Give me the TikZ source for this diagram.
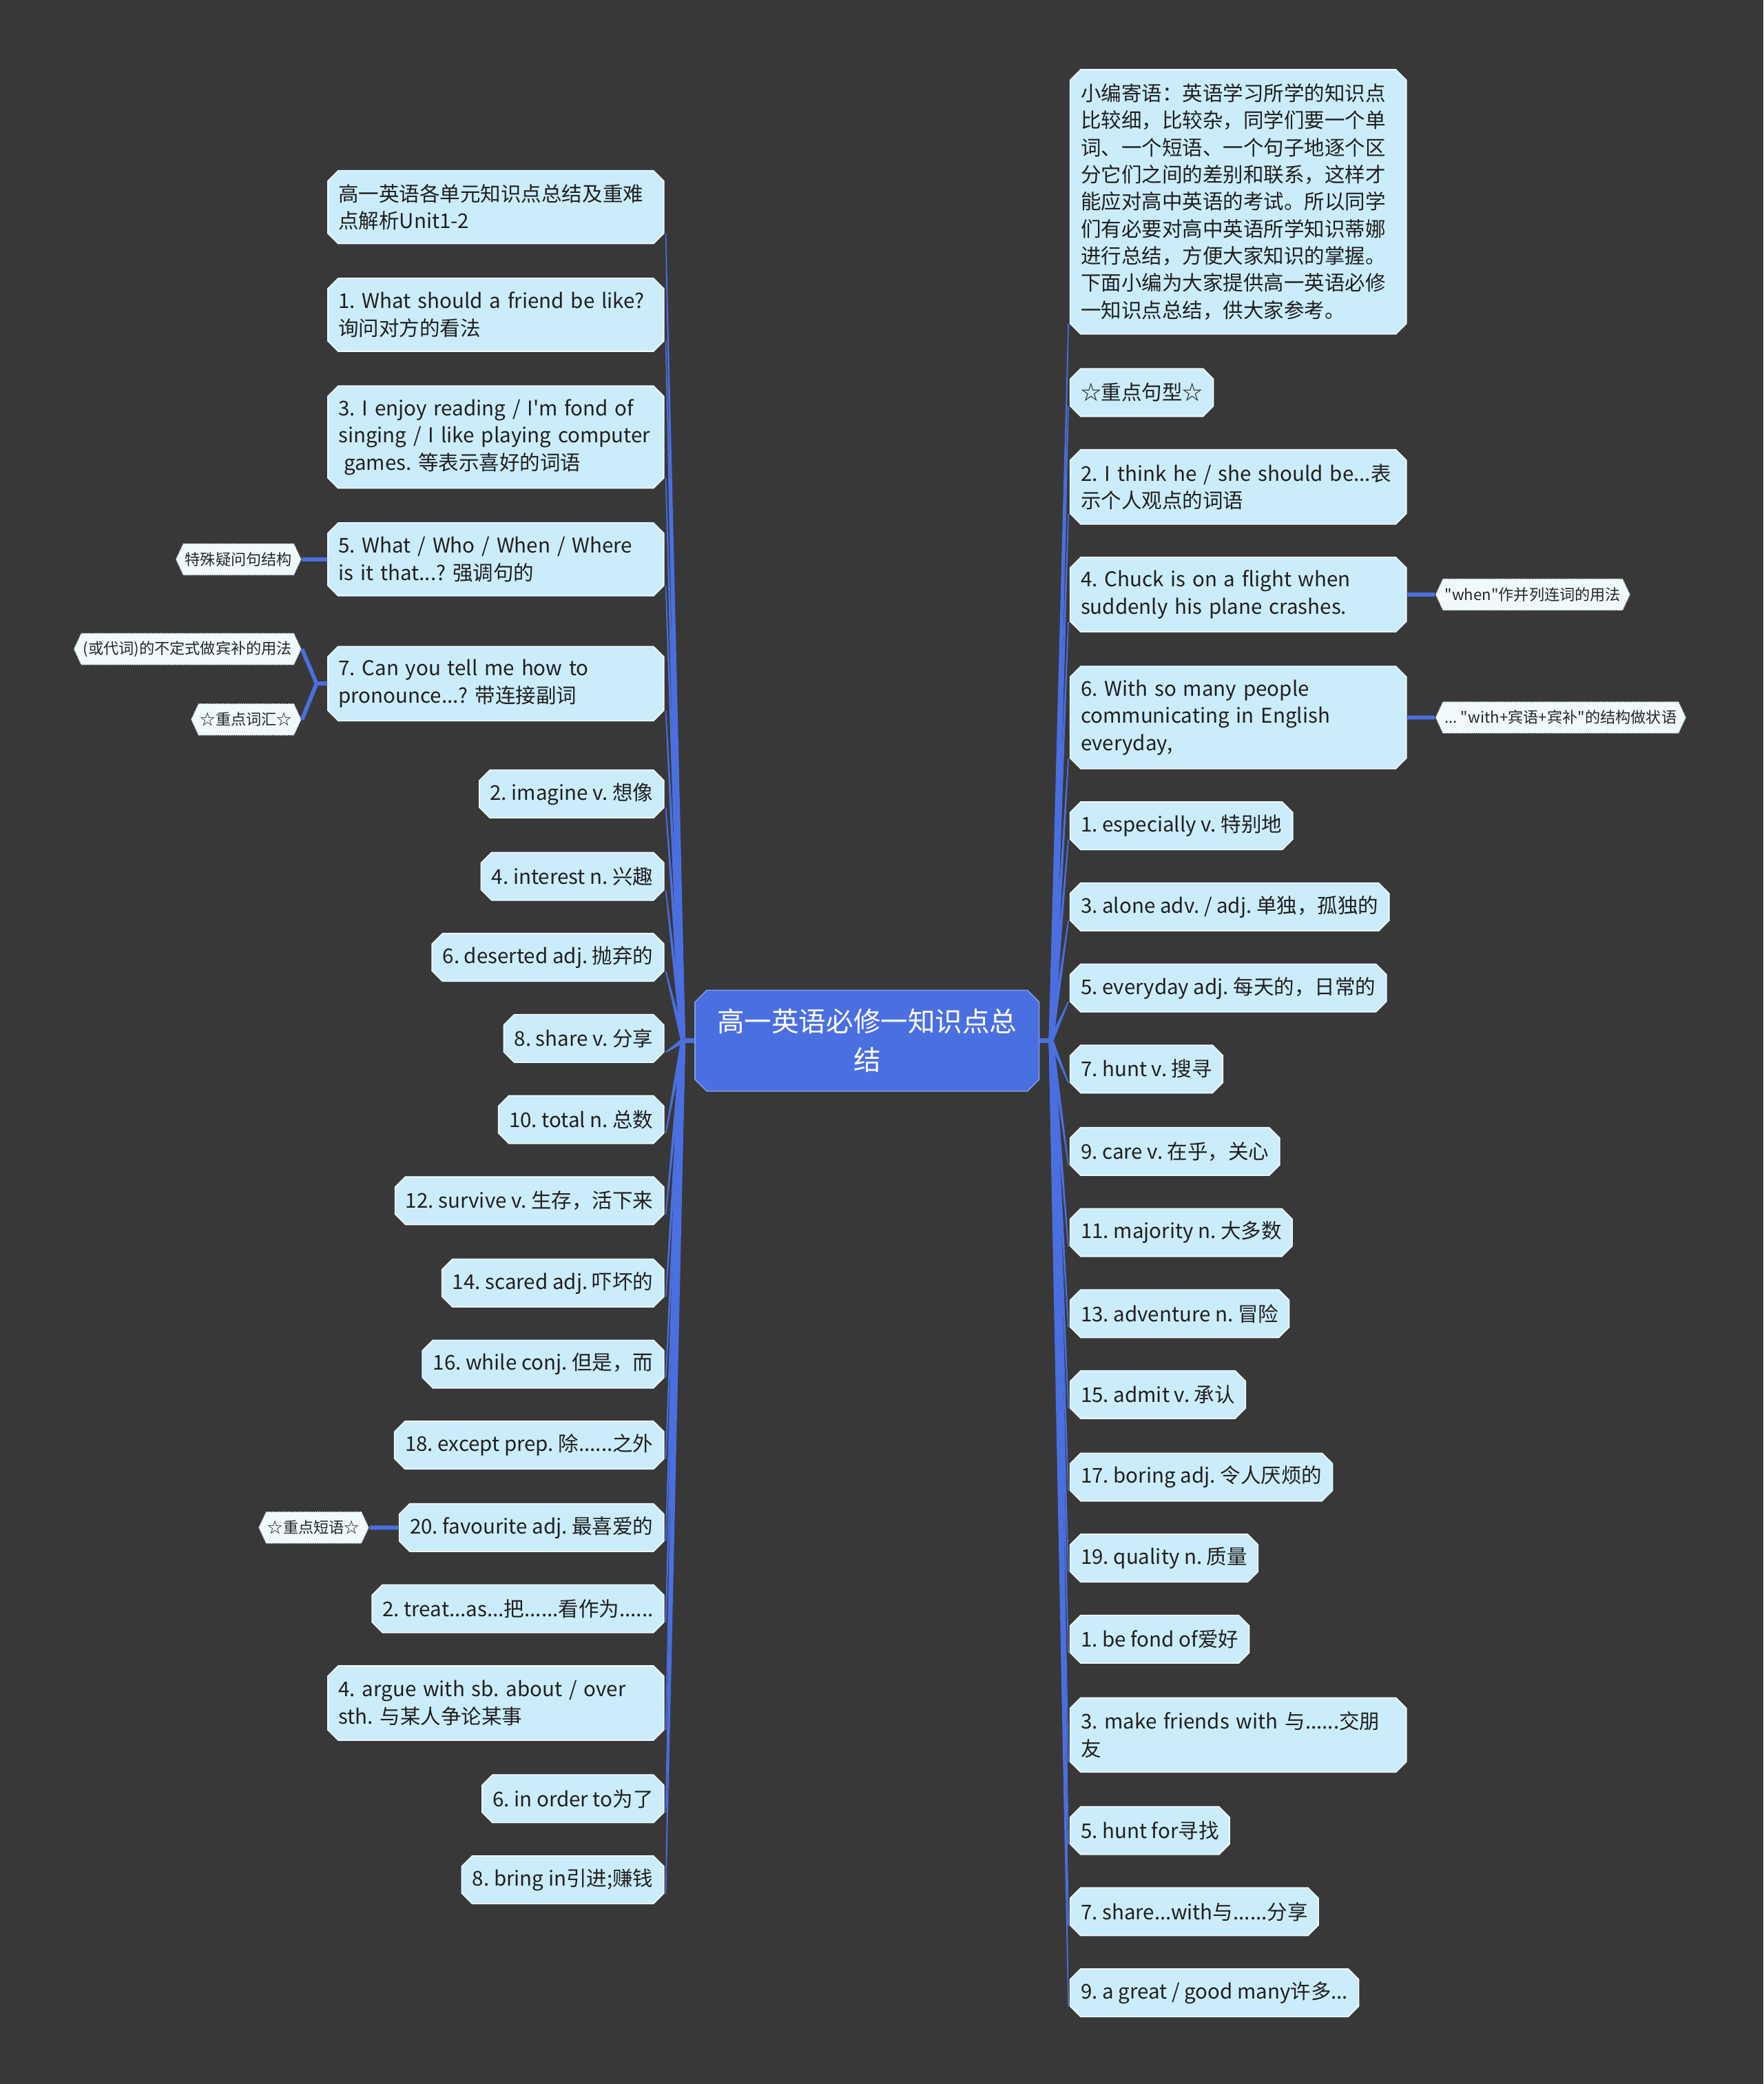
\documentclass[tikz,border=0pt]{standalone}
\usepackage{fontspec}
\newfontfamily\cjk{Noto Sans CJK SC}
\usetikzlibrary{positioning,calc,shapes.misc,shapes.symbols}
\frenchspacing

\definecolor{bgcol}{RGB}{57,56,57}
\definecolor{leafcol}{RGB}{203,237,251}
\definecolor{topiccol}{RGB}{74,111,224}
\definecolor{tagcol}{RGB}{240,250,253}

% tapered branch from a junction to an end point
\newcommand{\branch}[2]{\fill[topiccol] ($(#1)!1.8pt!90:(#2)$) -- ($(#2)!0.4pt!-90:(#1)$) -- ($(#2)!0.4pt!90:(#1)$) -- ($(#1)!1.8pt!-90:(#2)$) -- cycle;}

\begin{document}
\begin{tikzpicture}[x=1pt, y=-1pt,
  leaf/.style={chamfered rectangle, chamfered rectangle xsep=5pt, fill=leafcol, draw=white!75!leafcol, line width=0.8pt, text=black!88, font=\cjk\fontsize{15.3}{20.4}\selectfont, inner xsep=3pt, inner ysep=1pt, minimum height=36pt, align=left},
  wide/.style={leaf, text width=237pt},
  lft/.style={anchor=north east, xshift=-5pt, yshift=-5pt},
  rgt/.style={anchor=north west, xshift=5pt, yshift=-5pt},
  topic/.style={chamfered rectangle, chamfered rectangle xsep=6pt, fill=topiccol, draw=topiccol!70!white, line width=0.8pt, text=white, font=\cjk\fontsize{20.5}{29}\selectfont, minimum width=259pt, minimum height=76pt, align=center},
  tag/.style={signal, signal to=west and east, signal pointer angle=130, fill=tagcol, draw=black!75, densely dotted, line width=0.7pt, text=black!85, font=\cjk\fontsize{11.5}{14}\selectfont, inner xsep=1.5pt, inner ysep=3pt, minimum height=24pt},
  twig/.style={topiccol, line width=3pt}]

\useasboundingbox (0,0) rectangle (1327,1568);
\fill[bgcol] (0,0) rectangle (1327,1568);

\node[topic] (ctr) at (652.5,783) {高一英语必修一知识点总\\结};
\coordinate (jl) at (514,783);
\coordinate (jr) at (791,783);

% left side
\node[wide, lft, minimum height=55pt] (l1) at (501,127) {高一英语各单元知识点总结及重难\\点解析Unit1-2};
\node[wide, lft, minimum height=55pt] (l2) at (501,208) {1. What should a friend be like?\\询问对方的看法};
\node[wide, lft, minimum height=77pt] (l3) at (501,289) {3. I enjoy reading / I'm fond of\\singing / I like playing computer\\\hspace*{4pt}games. 等表示喜好的词语};
\node[wide, lft, minimum height=55pt] (l4) at (501,392) {5. What / Who / When / Where\\is it that...? 强调句的};
\node[wide, lft, minimum height=56pt] (l5) at (501,485) {7. Can you tell me how to\\pronounce...? 带连接副词};
\node[leaf, lft] (l6) at (501,578) {2. imagine v. 想像};
\node[leaf, lft] (l7) at (501,640) {4. interest n. 兴趣};
\node[leaf, lft] (l8) at (501,701) {6. deserted adj. 抛弃的};
\node[leaf, lft] (l9) at (501,762) {8. share v. 分享};
\node[leaf, lft] (l10) at (501,823) {10. total n. 总数};
\node[leaf, lft] (l11) at (501,884) {12. survive v. 生存，活下来};
\node[leaf, lft] (l12) at (501,946) {14. scared adj. 吓坏的};
\node[leaf, lft] (l13) at (501,1007) {16. while conj. 但是，而};
\node[leaf, lft] (l14) at (501,1068) {18. except prep. 除......之外};
\node[leaf, lft] (l15) at (501,1130) {20. favourite adj. 最喜爱的};
\node[leaf, lft] (l16) at (501,1191) {2. treat...as...把......看作为......};
\node[wide, lft, minimum height=56pt] (l17) at (501,1252) {4. argue with sb. about / over\\sth. 与某人争论某事};
\node[leaf, lft] (l18) at (501,1334) {6. in order to为了};
\node[leaf, lft] (l19) at (501,1395) {8. bring in引进;赚钱};

\node[tag, left=19pt of l4] (s1) {特殊疑问句结构};
\node[tag, left=19pt of l5, yshift=26pt] (s2) {(或代词)的不定式做宾补的用法};
\node[tag, left=19pt of l5, yshift=-27pt] (s3) {☆重点词汇☆};
\node[tag, left=22pt of l15] (s4) {☆重点短语☆};

% right side
\node[wide, rgt, minimum height=199pt] (r1) at (804,51) {小编寄语：英语学习所学的知识点\\比较细，比较杂，同学们要一个单\\词、一个短语、一个句子地逐个区\\分它们之间的差别和联系，这样才\\能应对高中英语的考试。所以同学\\们有必要对高中英语所学知识蒂娜\\进行总结，方便大家知识的掌握。\\下面小编为大家提供高一英语必修\\一知识点总结，供大家参考。};
\node[leaf, rgt] (r2) at (804,276) {☆重点句型☆};
\node[wide, rgt, minimum height=56pt] (r3) at (804,337) {2. I think he / she should be...表\\示个人观点的词语};
\node[wide, rgt, minimum height=56pt] (r4) at (804,418) {4. Chuck is on a flight when\\suddenly his plane crashes.};
\node[wide, rgt, minimum height=77pt] (r5) at (804,500) {6. With so many people\\communicating in English\\everyday,};
\node[leaf, rgt] (r6) at (804,602) {1. especially v. 特别地};
\node[leaf, rgt] (r7) at (804,663) {3. alone adv. / adj. 单独，孤独的};
\node[leaf, rgt] (r8) at (804,724) {5. everyday adj. 每天的，日常的};
\node[leaf, rgt] (r9) at (804,785) {7. hunt v. 搜寻};
\node[leaf, rgt] (r10) at (804,847) {9. care v. 在乎，关心};
\node[leaf, rgt] (r11) at (804,908) {11. majority n. 大多数};
\node[leaf, rgt] (r12) at (804,969) {13. adventure n. 冒险};
\node[leaf, rgt] (r13) at (804,1030) {15. admit v. 承认};
\node[leaf, rgt] (r14) at (804,1092) {17. boring adj. 令人厌烦的};
\node[leaf, rgt] (r15) at (804,1153) {19. quality n. 质量};
\node[leaf, rgt] (r16) at (804,1214) {1. be fond of爱好};
\node[wide, rgt, minimum height=56pt] (r17) at (804,1276) {3. make friends with 与......交朋\\友};
\node[leaf, rgt] (r18) at (804,1358) {5. hunt for寻找};
\node[leaf, rgt] (r19) at (804,1419) {7. share...with与......分享};
\node[leaf, rgt] (r20) at (804,1480) {9. a great / good many许多...};

\node[tag, right=21pt of r4] (t1) {"when"作并列连词的用法};
\node[tag, right=21pt of r5] (t2) {... "with+宾语+宾补"的结构做状语};

% connectors
\draw[topiccol, line width=4pt] (ctr.west) -- (jl);
\draw[topiccol, line width=4pt] (ctr.east) -- (jr);
\foreach \i in {1,...,19}{
  \coordinate (e) at ($(l\i.south east)+(5,-4)$);
  \branch{jl}{e}
}
\foreach \i in {1,...,20}{
  \coordinate (e) at ($(r\i.south west)+(-5,-4)$);
  \branch{jr}{e}
}
\draw[twig] (s1) -- (l4);
\draw[twig] (l5.west) -- ++(-8,0) -- (s2.east);
\draw[twig] (l5.west) -- ++(-8,0) -- (s3.east);
\draw[twig] (s4) -- (l15);
\draw[twig] (r4) -- (t1);
\draw[twig] (r5) -- (t2);
\end{tikzpicture}
\end{document}
